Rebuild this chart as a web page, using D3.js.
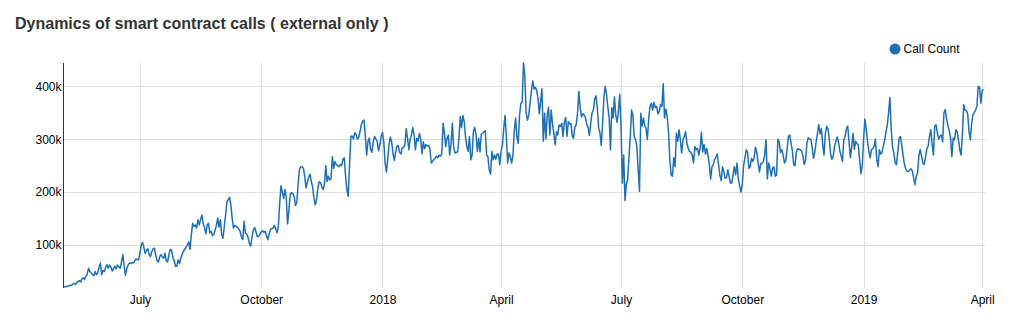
<!DOCTYPE html>
<html>
<head>
<meta charset="utf-8">
<script src="https://cdn.jsdelivr.net/npm/d3@7"></script>
<style>
  html, body { margin: 0; padding: 0; background: #fff; }
  svg { display: block; font-family: "Liberation Sans", Arial, Helvetica, sans-serif; }
</style>
</head>
<body>
<svg id="chart" width="1009" height="329"></svg>
<script>
// Daily external smart-contract call counts (thousands), one value per day from startDate
const startDate = "2017-05-04";
const callCountsK = [
  20.7,21,22,21.5,23,24,23.5,26,27,25.5,
  29,31,33,30,36,38,35,41,45,56,
  50,47,44,42,50,44,48,58,66,44,
  52,50,58,63,56,62,58,51,56,60,
  55,62,59,56,68,82,60,43,55,62,
  66,65,67,66,70,74,72,72,85,100,
  105,95,84,90,93,82,78,88,93,94,
  80,70,68,78,82,77,75,85,70,68,
  82,92,90,76,70,60,
  60,72,65,75,82,88,92,96,100,106,
  92,120,141,135,138,132,148,138,148,157,
  140,133,121,138,141,123,126,118,120,128,
  137,151,134,148,120,113,135,157,182,186,
  190,175,150,132,137,135,134,130,126,115,
  110,145,122,121,115,103,98,115,128,133,
  125,116,116,120,125,127,124,126,118,110,
  121,129,131,132,137,131,123,135,178,212,
  200,188,205,190,140,165,195,199,
  197,192,175,180,215,243,248,248,245,230,
  208,218,228,234,220,210,188,176,186,208,
  220,218,210,205,215,250,220,230,223,226,
  267,245,258,252,250,248,252,250,262,265,
  230,204,192,250,305,306,300,312,309,300,
  304,315,328,334,336,305,270,296,302,280,
  275,295,305,300,296,278,289,305,313,295,
  255,238,262,290,304,295,272,260,275,287,
  288,275,272,284,284,290,320,302,
  280,300,308,322,308,280,302,296,311,300,
  272,295,282,290,287,288,282,255,258,262,
  264,268,265,270,268,273,330,311,286,302,
  308,270,290,330,286,274,275,276,300,343,
  322,345,333,305,286,277,305,261,270,315,
  322,308,277,302,276,310,311,314,316,270,
  267,242,234,277,261,270,262,272,272,252,
  278,288,320,345,305,255,274,267,255,270,
  315,340,305,292,345,368,370,444,
  420,350,336,345,370,390,410,395,398,392,
  378,348,372,395,296,349,300,345,360,308,
  355,330,311,289,314,308,327,324,330,305,
  333,341,305,333,329,330,305,302,324,327,
  350,390,360,342,348,346,341,328,322,307,
  330,350,355,376,382,360,322,312,288,330,
  380,400,385,360,340,280,360,340,380,345,
  332,352,385,324,217,270,184,215,223,265,
  305,355,345,305,299,286,242,201,
  349,325,340,325,320,299,340,362,368,355,
  370,360,362,348,352,366,362,405,340,357,
  343,314,261,233,230,265,248,311,296,318,
  299,274,299,305,314,292,283,277,275,270,
  255,286,280,283,270,283,313,276,290,272,
  283,268,252,225,248,252,262,266,272,252,
  232,222,248,238,226,228,242,230,217,217,
  233,248,233,255,225,212,200,215,250,265,
  280,275,245,248,264,258,265,285,
  275,255,238,254,254,258,270,299,225,255,
  245,230,245,248,230,232,300,295,275,280,
  270,255,260,282,305,308,292,278,252,250,
  276,282,281,280,278,268,252,260,292,303,
  300,300,285,264,275,295,310,328,310,320,
  290,270,310,324,320,300,272,262,268,287,
  296,304,294,278,268,258,299,306,320,325,
  295,265,286,311,281,296,292,289,261,235,
  250,299,338,320,296,278,265,280,
  282,287,300,262,248,280,272,275,287,298,
  314,327,350,379,318,285,274,255,252,277,
  302,305,288,269,253,244,239,239,242,244,
  240,227,214,230,236,270,280,268,255,252,
  266,282,287,305,318,290,270,325,327,312,
  300,306,308,295,350,356,338,326,316,302,
  267,302,299,318,314,299,280,270,310,365,
  355,354,348,315,299,330,346,350,355,362,
  400,398,368,392,394
];

const xTickDates = ["2017-07-01","2017-10-01","2018-01-01","2018-04-01","2018-07-01","2018-10-01","2019-01-01","2019-04-01"];
const xTickLabels = ["July","October","2018","April","July","October","2019","April"];
const yTickValues = [100, 200, 300, 400];
const yTickLabels = ["100k","200k","300k","400k"];

const titleText = "Dynamics of smart contract calls ( external only )";
const seriesName = "Call Count";
const lineColor = "#1f6fb4";

const parse = d3.utcParse("%Y-%m-%d");
const start = parse(startDate);
const data = callCountsK.map((v, i) => ({ date: d3.utcDay.offset(start, i), value: v }));

const svg = d3.select("#chart");
const plot = { left: 63.5, right: 983.5, top: 63, bottom: 287, gridRight: 985 };

const x = d3.scaleUtc()
  .domain(d3.extent(data, d => d.date))
  .range([plot.left, plot.right]);

const y = d3.scaleLinear()
  .domain(d3.extent(data, d => d.value))
  .range([plot.bottom, plot.top]);

// title
svg.append("text")
  .attr("x", 15).attr("y", 29)
  .attr("font-size", 16).attr("font-weight", "bold")
  .attr("fill", "#333")
  .text(titleText);

// legend
const legend = svg.append("g").attr("transform", "translate(895,49)");
legend.append("circle").attr("r", 5.5).attr("fill", lineColor);
legend.append("text").attr("x", 8.5).attr("y", 4.3)
  .attr("font-size", 12).attr("fill", "#000").text(seriesName);

// grid
const grid = svg.append("g").attr("stroke", "#dedede").attr("stroke-width", 1).attr("shape-rendering", "crispEdges");
grid.selectAll("line.h").data(yTickValues).join("line")
  .attr("x1", plot.left).attr("x2", plot.gridRight)
  .attr("y1", d => Math.round(y(d)) + 0.5).attr("y2", d => Math.round(y(d)) + 0.5);
const tickDates = xTickDates.map(parse);
grid.selectAll("line.v").data(tickDates).join("line")
  .attr("x1", d => Math.round(x(d)) + 0.5).attr("x2", d => Math.round(x(d)) + 0.5)
  .attr("y1", plot.top).attr("y2", plot.bottom + 1);

// x axis labels
const xAxis = d3.axisBottom(x)
  .tickValues(tickDates)
  .tickFormat((d, i) => xTickLabels[i])
  .tickSize(0).tickPadding(8);
const gx = svg.append("g").attr("transform", `translate(0,${plot.bottom})`).call(xAxis);
gx.select(".domain").remove();
gx.selectAll("text").attr("font-size", 12).attr("fill", "#000").attr("font-family", null);

// y axis
const yAxis = d3.axisLeft(y)
  .tickValues(yTickValues)
  .tickFormat((d, i) => yTickLabels[i])
  .tickSize(0).tickSizeOuter(0).tickPadding(2);
const gy = svg.append("g").attr("transform", `translate(${plot.left},0)`).call(yAxis);
gy.select(".domain").attr("stroke", "#333").attr("d", `M0,${plot.top}V${plot.bottom + 1}`);
gy.selectAll(".tick line").remove();
gy.selectAll("text").attr("font-size", 12).attr("fill", "#000").attr("font-family", null);

// series line
svg.append("path")
  .datum(data)
  .attr("fill", "none")
  .attr("stroke", lineColor)
  .attr("stroke-width", 1.5)
  .attr("stroke-linejoin", "round")
  .attr("d", d3.line().x(d => x(d.date)).y(d => y(d.value)));
</script>
</body>
</html>
